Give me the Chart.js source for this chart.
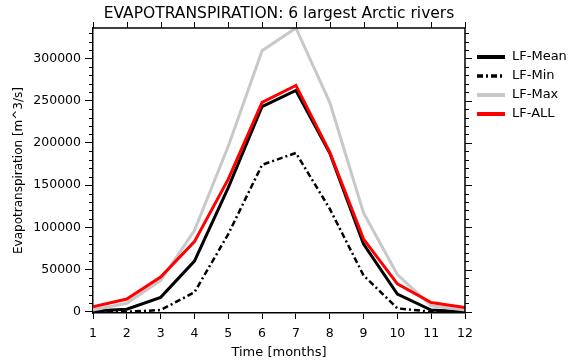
<!DOCTYPE html>
<html>
<head>
<meta charset="utf-8">
<script src="https://cdn.jsdelivr.net/npm/chart.js@4.4.0/dist/chart.umd.min.js"></script>
<style>
  html, body { margin: 0; padding: 0; background: #fff; }
  #wrap { width: 571px; height: 360px; }
</style>
</head>
<body>
<div id="wrap"><canvas id="etChart" width="571" height="360"></canvas></div>
<script>
// monthly evapotranspiration, m^3/s
const months = [1, 2, 3, 4, 5, 6, 7, 8, 9, 10, 11, 12];
const lfMean = [1000, 3000, 17000, 60000, 147000, 243000, 262000, 188000, 80000, 21000, 2000, 0];
const lfMin  = [-1000, 0, 2000, 23000, 92000, 174000, 188000, 122000, 43000, 4000, 0, -1000];
const lfMax  = [2000, 10000, 37000, 96000, 196000, 309000, 336000, 248000, 117000, 44000, 7000, 2000];
const lfAll  = [6000, 15000, 41000, 83000, 157000, 248000, 268000, 189000, 86000, 33000, 11000, 5000];
const yTickValues = [0, 50000, 100000, 150000, 200000, 250000, 300000];

const yMajorStep = 50000;
const yMinorStep = 10000;
const fontFamily = "'DejaVu Sans', sans-serif";

function toPoints(vals) {
    return months.map((m, i) => ({ x: m, y: vals[i] }));
}

// top/right frame plus the minor ticks chart.js can't do
const frameTicks = {
    id: 'frameTicks',
    afterDraw(chart) {
        const { ctx, chartArea: a, scales: { x, y } } = chart;
        ctx.save();
        ctx.strokeStyle = '#000';
        ctx.lineWidth = 1.5;
        ctx.beginPath();
        ctx.moveTo(a.left, a.top);
        ctx.lineTo(a.right, a.top);
        ctx.lineTo(a.right, a.bottom);
        ctx.stroke();
        ctx.lineWidth = 1;
        ctx.beginPath();
        for (let v = 0; v <= y.max; v += yMinorStep) {
            const py = Math.round(y.getPixelForValue(v)) + 0.5;
            const major = v % yMajorStep === 0;
            if (!major) {
                ctx.moveTo(a.left - 4, py);
                ctx.lineTo(a.left, py);
            }
            ctx.moveTo(a.right, py);
            ctx.lineTo(a.right + (major ? 7 : 4), py);
        }
        x.ticks.forEach(t => {
            const px = Math.round(x.getPixelForValue(t.value)) + 0.5;
            ctx.moveTo(px, a.top);
            ctx.lineTo(px, a.top - 6);
        });
        ctx.stroke();
        ctx.restore();
    }
};

// legend off to the right of the plot
const sideLegend = {
    id: 'sideLegend',
    afterDraw(chart) {
        const { ctx, chartArea: a } = chart;
        const order = ['LF-Mean', 'LF-Min', 'LF-Max', 'LF-ALL'];
        ctx.save();
        ctx.font = '13px ' + fontFamily;
        ctx.textBaseline = 'middle';
        ctx.fillStyle = '#000';
        order.forEach((name, i) => {
            const ds = chart.data.datasets.find(d => d.label === name);
            const yy = a.top + 29 + i * 19;
            ctx.strokeStyle = ds.borderColor;
            ctx.lineWidth = ds.borderWidth + 1;
            ctx.setLineDash(ds.borderDash || []);
            ctx.beginPath();
            ctx.moveTo(a.right + 12, yy);
            ctx.lineTo(a.right + 40, yy);
            ctx.stroke();
            ctx.setLineDash([]);
            ctx.fillText(name, a.right + 47, yy);
        });
        ctx.restore();
    }
};

new Chart(document.getElementById('etChart').getContext('2d'), {
    type: 'line',
    data: {
        datasets: [
            { label: 'LF-Mean', data: toPoints(lfMean), borderColor: '#000000', borderWidth: 3, order: 3 },
            { label: 'LF-Min', data: toPoints(lfMin), borderColor: '#000000', borderWidth: 2.5, borderDash: [6, 3, 2, 3], order: 2 },
            { label: 'LF-Max', data: toPoints(lfMax), borderColor: '#c8c8c8', borderWidth: 3, order: 1 },
            { label: 'LF-ALL', data: toPoints(lfAll), borderColor: '#ff0000', borderWidth: 3, order: 0 }
        ]
    },
    options: {
        responsive: false,
        devicePixelRatio: 1,
        animation: false,
        layout: { padding: { left: 0, top: 0, right: 106, bottom: 0 } },
        elements: { point: { radius: 0 }, line: { tension: 0, fill: false } },
        plugins: {
            legend: { display: false },
            tooltip: { enabled: false },
            title: {
                display: true,
                fullSize: false,
                text: 'EVAPOTRANSPIRATION: 6 largest Arctic rivers',
                color: '#000',
                font: { family: fontFamily, size: 15.5, weight: 'normal' },
                padding: { top: 5, bottom: 4.4 }
            }
        },
        scales: {
            x: {
                type: 'linear',
                min: 1,
                max: 12,
                afterFit: s => { s.height = 47; },
                ticks: { stepSize: 1, color: '#000', padding: 7, maxRotation: 0, font: { family: fontFamily, size: 12.5 } },
                grid: { drawOnChartArea: false, drawTicks: true, tickLength: 6, color: '#000' },
                border: { display: true, color: '#000', width: 1.5 },
                title: { display: true, text: 'Time [months]', color: '#000', font: { family: fontFamily, size: 13 }, padding: { top: 0, bottom: 0 } }
            },
            y: {
                type: 'linear',
                min: -1500,
                max: 336000,
                afterFit: s => { s.width = 93; },
                afterBuildTicks: s => { s.ticks = yTickValues.map(v => ({ value: v })); },
                ticks: {
                    color: '#000',
                    padding: 4,
                    font: { family: fontFamily, size: 12.5 },
                    callback: v => String(v)
                },
                grid: { drawOnChartArea: false, drawTicks: true, tickLength: 8, color: '#000' },
                border: { display: true, color: '#000', width: 1.5 },
                title: { display: true, text: 'Evapotranspiration [m^3/s]', color: '#000', font: { family: fontFamily, size: 12 }, padding: { top: 12, bottom: 0 } }
            }
        }
    },
    plugins: [frameTicks, sideLegend]
});
</script>
</body>
</html>
